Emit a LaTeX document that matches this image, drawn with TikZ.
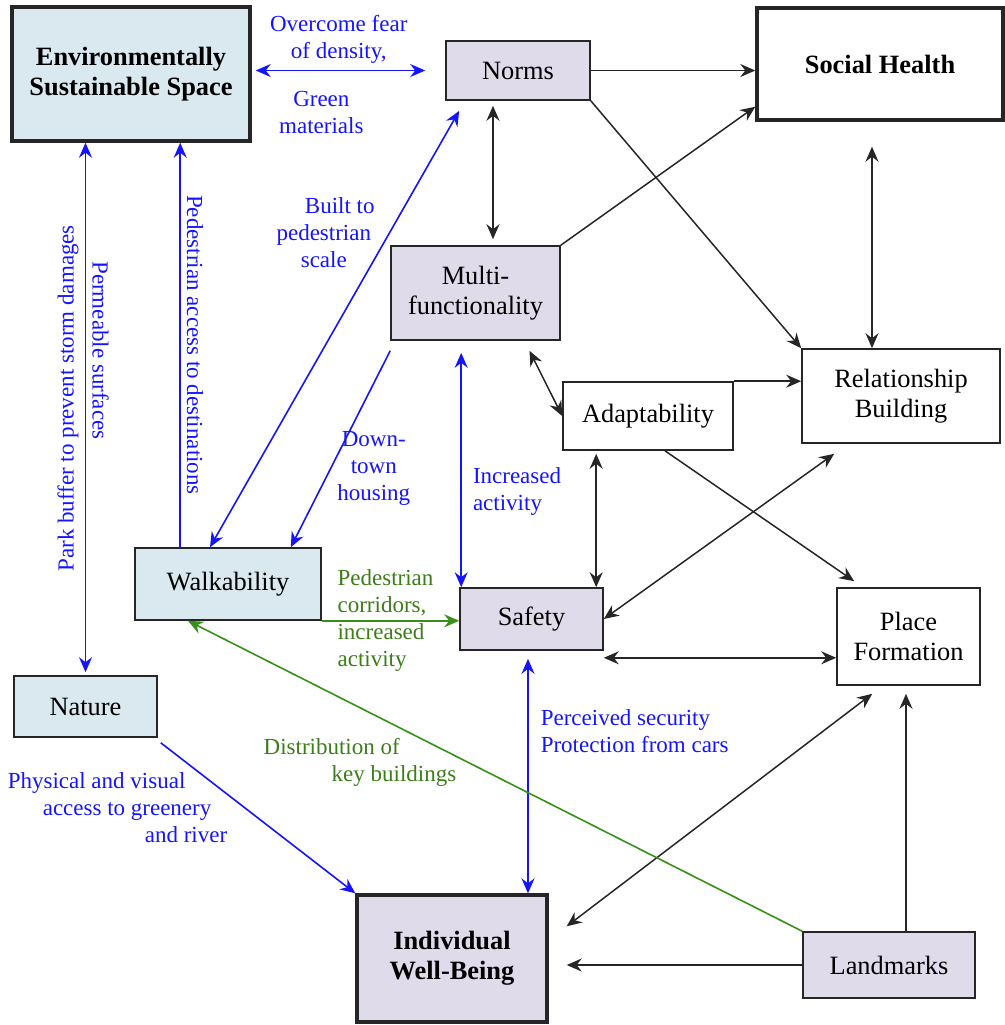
\documentclass[tikz,border=0pt]{standalone}
\usepackage{fontspec}
\setmainfont{Liberation Serif}
\usetikzlibrary{arrows.meta}
\definecolor{envblue}{RGB}{217,233,239}
\definecolor{lav}{RGB}{223,219,234}
\definecolor{lblue}{RGB}{20,20,255}
\definecolor{lgreen}{RGB}{55,145,25}
\definecolor{tgreen}{RGB}{60,125,25}

\begin{document}
\begin{tikzpicture}[x=0.5pt, y=-0.5pt,
    >={Stealth[length=7.5pt,width=6.5pt,inset=2.5pt]},
    box/.style={draw=black!85, line width=0.8pt, align=center, inner sep=0pt,
                font=\fontsize{13.2}{15}\selectfont},
    mainbox/.style={box, line width=1.7pt, font=\fontsize{13.2}{15}\selectfont\bfseries},
    link/.style={line width=0.75pt, black!85},
    blink/.style={line width=0.8pt, lblue},
    glink/.style={line width=0.8pt, lgreen},
    blbl/.style={text=lblue, font=\fontsize{11.5}{13.5}\selectfont, inner sep=3pt},
    glbl/.style={blbl, text=tgreen}]
    \useasboundingbox (0,0) rectangle (1005,1025);
    % boxes
    \node [mainbox, fill=envblue, minimum width=119pt, minimum height=67pt] (ess)    at (131,74)    {Environmentally\\Sustainable Space};
    \node [box, fill=lav,         minimum width=72pt,  minimum height=29.5pt] (norms) at (518,70.5)  {Norms};
    \node [mainbox, fill=white,   minimum width=123pt, minimum height=56pt] (social) at (880,64)    {Social Health};
    \node [box, fill=lav,         minimum width=84.5pt, minimum height=47pt] (multi) at (475.5,293) {Multi-\\functionality};
    \node [box, fill=white,       minimum width=99pt,  minimum height=47pt] (relb)   at (901,396)   {Relationship\\Building};
    \node [box, fill=white,       minimum width=85pt,  minimum height=34pt] (adapt)  at (648,416)   {Adaptability};
    \node [box, fill=envblue,     minimum width=93pt,  minimum height=36pt] (walk)   at (228,584)   {\raisebox{3pt}{Walkability}};
    \node [box, fill=lav,         minimum width=71.5pt, minimum height=31pt] (safety) at (531.5,619) {Safety};
    \node [box, fill=white,       minimum width=71.5pt, minimum height=48.5pt] (place) at (908.5,636.5) {Place\\Formation};
    \node [box, fill=envblue,     minimum width=71.5pt, minimum height=30.5pt] (nature) at (85.5,706.5) {Nature};
    \node [mainbox, fill=lav,     minimum width=95pt,  minimum height=63.5pt] (iwb)  at (452,958.5) {Individual\\Well-Being};
    \node [box, fill=lav,         minimum width=86pt,  minimum height=33pt] (landm)  at (889,965)   {Landmarks};

    % black links
    \draw [link, ->]       (norms.east) -- (norms.east -| social.west);
    \draw [link, ->]       (multi.north east) -- ([yshift=7.5pt]social.south west);
    \draw [link, ->]       (norms.south east) -- (relb.north west);
    \draw [link, <->, shorten <=2.5pt, shorten >=3pt] ([xshift=-12.5pt]norms.south) -- ([xshift=-12.5pt]norms.south |- multi.north);
    \draw [link, <->, shorten <=12.5pt] ([xshift=-4pt]social.south) -- ([xshift=-4pt]social.south |- relb.north);
    \draw [link, <->]      ([xshift=27pt,yshift=-5pt]multi.south) -- (adapt.west);
    \draw [link, ->]       (adapt.north east) -- (adapt.north east -| relb.west);
    \draw [link, ->]       ([xshift=8.5pt]adapt.south) -- ([xshift=9pt,yshift=3pt]place.north west);
    \draw [link, <->]      (safety.east) -- ([xshift=16.5pt,yshift=-5pt]relb.south west);
    \draw [link, <->, shorten <=1.5pt] ([xshift=17pt]adapt.south west) -- ([xshift=17pt]adapt.south west |- safety.north);
    \draw [link, <->]      ([yshift=-3.5pt]safety.south east) -- ([yshift=-3.5pt]safety.south east -| place.west);
    \draw [link, ->, shorten >=9pt] (landm.west) -- (landm.west -| iwb.east);
    \draw [link, ->, shorten >=4pt] ([xshift=-1.25pt]place.south |- landm.north) -- ([xshift=-1.25pt]place.south);
    \draw [link, <->]      ([xshift=9pt,yshift=-16.5pt]iwb.north east) -- ([xshift=18pt,yshift=-4pt]place.south west);

    % blue links
    \draw [blink, <->, shorten <=2pt, shorten >=10pt] (ess.east |- norms.west) -- (norms.west)
        node [blbl, pos=0.45, above, align=center] (l1) {Overcome fear\\of density,}
        node [blbl, pos=0.36, below=7pt, align=center] (l2) {Green\\materials};
    \draw [blink, <->, shorten >=6pt] ([xshift=1pt]safety.north west) -- ([xshift=1pt]safety.north west |- multi.south)
        node [blbl, pos=0.39, right, xshift=2.5pt, align=left] (l3) {Increased\\activity};
    \draw [blink, <->]     ([xshift=7pt,yshift=-5pt]norms.south west) -- ([xshift=-9pt]walk.north)
        node [blbl, pos=0.28, left=4pt, align=center] (l4) {\hspace*{16pt}Built to\\pedestrian\\scale};
    \draw [blink, ->]      ([yshift=-5pt]multi.south west) -- ([xshift=-15.5pt]walk.north east)
        node [blbl, pos=0.6, right, align=center] (l5) {Down-\\town\\housing};
    \draw [blink, ->]      ([xshift=23pt]walk.north west) -- ([xshift=23pt]walk.north west |- ess.south)
        node [blbl, midway, rotate=-90, anchor=south] (l6) {Pedestrian access to destinations};
    \draw [blink, <->, shorten >=1.5pt] (nature.north |- ess.south) -- (nature.north)
        node [blbl, pos=0.48, rotate=90, anchor=south] (l7) {Park buffer to prevent storm damages}
        node [blbl, pos=0.39, rotate=-90, anchor=south] (l8) {Permeable surfaces};
    \draw [blink, ->]      ([xshift=1.5pt,yshift=-2.5pt]nature.south east) -- (iwb.north west)
        node [blbl, pos=0.15, anchor=north east, xshift=22pt, align=left] (l11) {Physical and visual\\\hspace*{17.5pt}access to greenery\\\hspace*{68.5pt}and river};
    \draw [blink, <->, shorten <=4pt] ([xshift=-1.75pt]safety.south) -- ([xshift=-1.75pt]safety.south |- iwb.north)
        node [blbl, pos=0.33, right, xshift=3pt, align=left] (l12) {Perceived security\\Protection from cars};

    % green links
    \draw [glink, ->]      (walk.south east) -- (walk.south east -| safety.west)
        node [glbl, pos=0, anchor=west, xshift=4.5pt, align=left] (l9) {Pedestrian\\corridors,\\increased\\activity};
    \draw [glink, ->]      (landm.north west) -- ([xshift=-20pt]walk.south)
        node [glbl, pos=0.72, anchor=north, yshift=-12pt, align=left] (l10) {Distribution of\\\hspace*{34pt}key buildings};
\end{tikzpicture}
\end{document}
